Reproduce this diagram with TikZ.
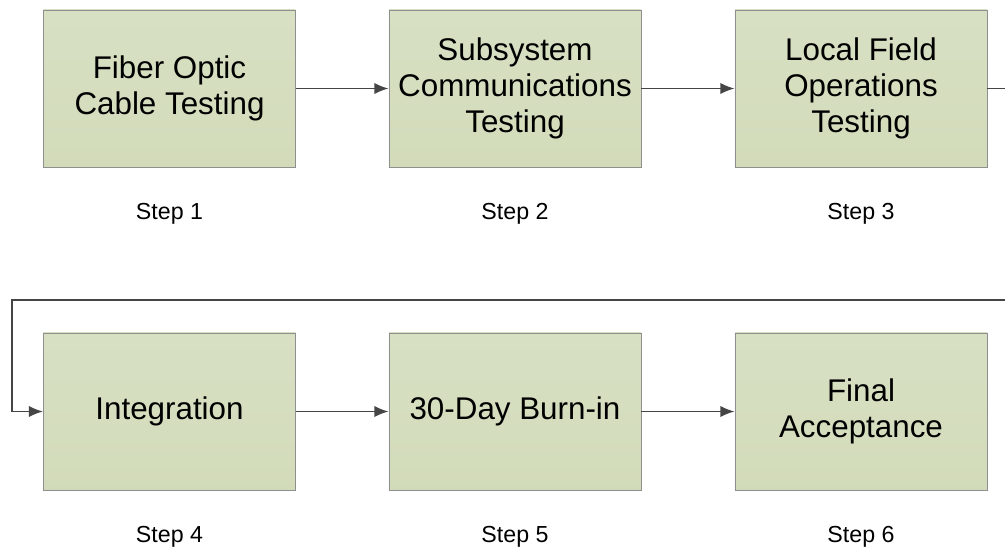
\documentclass[tikz,border=0pt]{standalone}
\usepackage{fontspec}
\setmainfont{Liberation Sans}
\usetikzlibrary{arrows.meta}
\definecolor{boxfill}{HTML}{D8E0C4}
\definecolor{boxfillb}{HTML}{D2DBB9}
\definecolor{boxline}{HTML}{8F8F8F}
\definecolor{arrowgray}{HTML}{454545}
\begin{document}
\begin{tikzpicture}[x=0.025cm, y=-0.025cm]

    % --------------------
    % Area do desenho
    % --------------------
    \useasboundingbox (0,0) rectangle (1005,549);

    % Estilos
    \tikzset{
        stepbox/.style={draw=boxline, line width=0.6pt, top color=boxfill, bottom color=boxfillb,
            minimum width=6.3cm, minimum height=3.925cm, inner sep=0pt, align=center,
            font=\fontsize{22.3}{25.5}\selectfont},
        steplabel/.style={font=\fontsize{16.5}{19}\selectfont},
        flow/.style={draw=arrowgray, line width=1.2pt, -{Latex[length=10pt, width=8pt]}}
    }

    % --------------------
    % Linha 1
    % --------------------
    \node[stepbox] (fiber) at (169.5,88.5) {Fiber Optic\\Cable Testing};
    \node[stepbox] (subsys) at (515,88.5) {Subsystem\\Communications\\Testing};
    \node[stepbox] (local) at (861,88.5) {Local Field\\Operations\\Testing};

    \node[steplabel] (s1) at (169.5,214) {Step 1};
    \node[steplabel] (s2) at (515,214) {Step 2};
    \node[steplabel] (s3) at (861,214) {Step 3};

    % --------------------
    % Linha 2
    % --------------------
    \node[stepbox] (integ) at (169.5,411.5) {Integration};
    \node[stepbox] (burnin) at (515,411.5) {30-Day Burn-in};
    \node[stepbox] (accept) at (861,411.5) {Final\\Acceptance};

    \node[steplabel] (s4) at (169.5,537) {Step 4};
    \node[steplabel] (s5) at (515,537) {Step 5};
    \node[steplabel] (s6) at (861,537) {Step 6};

    % --------------------
    % Conectores
    % --------------------
    \draw[flow] (fiber) -- (subsys);
    \draw[flow] (subsys) -- (local);

    \coordinate (turnA) at (1020,88.5);
    \coordinate (turnB) at (1020,300);
    \coordinate (turnC) at (12,300);
    \coordinate (turnD) at (12,411.5);
    \draw[flow] (local.east) -- (turnA) -- (turnB) -- (turnC) -- (turnD) -- (integ.west);

    \draw[flow] (integ) -- (burnin);
    \draw[flow] (burnin) -- (accept);

\end{tikzpicture}
\end{document}
